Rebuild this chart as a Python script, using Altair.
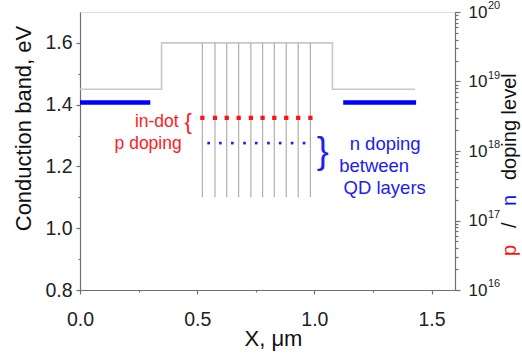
import altair as alt
import pandas as pd

FONT = "Liberation Sans"

# ---- data ----
# conduction band profile (x in um, energy in eV)
band_x = [0.0, 0.348, 0.348, 1.077, 1.077, 1.43]
band_e = [1.45, 1.45, 1.60, 1.60, 1.45, 1.45]

# QD layers (vertical lines)
qd_x = [0.522, 0.576, 0.626, 0.677, 0.729, 0.779, 0.829, 0.880, 0.931, 0.983]
qd_e_low = 1.10
qd_e_high = 1.60

# doping (cm^-3, right log axis)
contact_x_start = [0.0, 1.123]
contact_x_end = [0.30, 1.434]
contact_doping = [5e18, 5e18]

pdot_x = qd_x
pdot_doping = 3e18

ndot_x = [0.549, 0.599, 0.650, 0.702, 0.752, 0.804, 0.854, 0.905, 0.956]
ndot_doping = 1.3e18

# ticks
e_ticks = [0.8, 0.9, 1.0, 1.1, 1.2, 1.3, 1.4, 1.5, 1.6]
x_ticks = [0.0, 0.25, 0.5, 0.75, 1.0, 1.25, 1.5]
decades = [16, 17, 18, 19, 20]
doping_ticks = [m * 10.0 ** k for k in [16, 17, 18, 19] for m in range(1, 10)] + [1e20]

# annotations
red_labels = ["in-dot", "p doping"]
red_label_x = [0.421, 0.434]
red_label_e = [1.345, 1.273]
blue_labels = ["n doping", "between", "QD layers"]
blue_label_x = [1.302, 1.255, 1.300]
blue_label_e = [1.273, 1.201, 1.130]

# ---- tables ----
band_df = pd.DataFrame({"x": band_x, "e": band_e, "i": list(range(len(band_x)))})
qd_df = pd.DataFrame({"x": qd_x, "lo": [qd_e_low] * len(qd_x), "hi": [qd_e_high] * len(qd_x)})
contact_df = pd.DataFrame({"x0": contact_x_start, "x1": contact_x_end, "d": contact_doping})
pdot_df = pd.DataFrame({"x": pdot_x, "d": [pdot_doping] * len(pdot_x)})
ndot_df = pd.DataFrame({"x": ndot_x, "d": [ndot_doping] * len(ndot_x)})
exp_df = pd.DataFrame({"d": [10.0 ** k for k in decades], "t": [str(k) for k in decades]})
red_df = pd.DataFrame({"x": red_label_x, "e": red_label_e, "t": red_labels})
blue_df = pd.DataFrame({"x": blue_label_x, "e": blue_label_e, "t": blue_labels})

xs = alt.Scale(domain=[0, 1.6], nice=False, zero=False)
es = alt.Scale(domain=[0.8, 1.7], nice=False, zero=False)
ds = alt.Scale(type="log", domain=[1e16, 1e20], nice=False)

AX = dict(labelFont=FONT, titleFont=FONT, labelColor="#222222", titleColor="#111111",
          domainColor="#707070", tickColor="#707070", domainWidth=1.2, tickWidth=1.2,
          grid=False, titleFontWeight="normal", labelFontWeight="normal")

x_axis = alt.Axis(
    values=x_ticks, title="X, \u03bcm", labelFontSize=19.5, titleFontSize=22,
    labelExpr="abs(datum.value*2-round(datum.value*2))<1e-6 ? format(datum.value,'.1f') : ''",
    tickSize={"condition": {"test": "abs(datum.value*2-round(datum.value*2))<1e-6", "value": 4}, "value": 2},
    labelPadding=16, titleX=193, titleY=55, titleBaseline="alphabetic", titleAlign="center",
    labelFlush=False, **AX)

e_axis = alt.Axis(
    values=e_ticks, title="Conduction band, eV", labelFontSize=19.5, titleFontSize=22,
    labelExpr="abs(datum.value*5-round(datum.value*5))<1e-6 ? format(datum.value,'.1f') : ''",
    tickSize={"condition": {"test": "abs(datum.value*5-round(datum.value*5))<1e-6", "value": 4}, "value": 2},
    labelPadding=4, titleAngle=270, titleX=-50, titleY=116, titleBaseline="alphabetic",
    titleAlign="center", labelFlush=False, **AX)

DEC = "abs(log(datum.value)/LN10 - round(log(datum.value)/LN10)) < 1e-6"
d_axis = alt.Axis(
    orient="right", values=doping_ticks, title=None, labelFontSize=17,
    labelExpr=DEC + " ? '10' : ''",
    tickSize={"condition": {"test": DEC, "value": 5}, "value": 3},
    labelPadding=8, labelFlush=False, labelBaseline="middle", **AX)

X = alt.X("x:Q", scale=xs, axis=x_axis)
E = alt.Y("e:Q", scale=es, axis=e_axis)
D = alt.Y("d:Q", scale=ds, axis=d_axis)

band = alt.Chart(band_df).mark_line(color="#c8c8c8", strokeWidth=1.6).encode(
    x=X, y=E, order="i:Q")
qd = alt.Chart(qd_df).mark_rule(color="#b0b0b0", strokeWidth=1.2).encode(
    x=X, y=alt.Y("lo:Q", scale=es, axis=e_axis), y2="hi:Q")

red_txt = alt.Chart(red_df).mark_text(
    font=FONT, fontSize=17.5, color="#ff2020", align="right", baseline="middle").encode(
    x=X, y=E, text="t:N")
red_brace = alt.Chart(pd.DataFrame({"x": [0.461], "e": [1.343], "t": ["{"]})).mark_text(
    font=FONT, fontSize=22, color="#ff2020", align="center", baseline="middle").encode(
    x=X, y=E, text="t:N")
blue_txt = alt.Chart(blue_df).mark_text(
    font=FONT, fontSize=18.5, color="#2020ee", align="center", baseline="middle").encode(
    x=X, y=E, text="t:N")
blue_brace = alt.Chart(pd.DataFrame({"x": [1.036], "e": [1.248], "t": ["}"]})).mark_text(
    font=FONT, fontSize=36, color="#2020ee", align="center", baseline="middle").encode(
    x=X, y=E, text="t:N")

left = alt.layer(band, qd, red_txt, red_brace, blue_txt, blue_brace)

contacts = alt.Chart(contact_df).mark_rule(color="#0000ff", strokeWidth=4.5).encode(
    x=alt.X("x0:Q", scale=xs, axis=x_axis), x2="x1:Q", y=D)
pdots = alt.Chart(pdot_df).mark_square(color="#ff1010", size=18, opacity=1).encode(x=X, y=D)
ndots = alt.Chart(ndot_df).mark_square(color="#1a1aff", size=7, opacity=1).encode(x=X, y=D)
exps = alt.Chart(exp_df).mark_text(
    font=FONT, fontSize=11, color="#222222", align="left", baseline="middle", dy=-6).encode(
    x=alt.value(408), y=D, text="t:N")

one = alt.Data(values=[{"a": 1}])


def title_piece(txt, col, ypix):
    return alt.Chart(one).mark_text(
        text=txt, font=FONT, fontSize=20, color=col, angle=270, align="left",
        baseline="alphabetic").encode(x=alt.value(436), y=alt.value(ypix))


rt = [title_piece("p", "#ff1010", 244), title_piece("/", "#111111", 216),
      title_piece("n", "#1010ee", 194), title_piece("doping level", "#111111", 168)]

right = alt.layer(contacts, pdots, ndots, exps, *rt)

chart = alt.layer(left, right).resolve_scale(y="independent").properties(
    width=375, height=278,
    autosize=alt.AutoSizeParams(type="none"),
    padding={"left": 80, "top": 12, "right": 67, "bottom": 64},
).configure_view(stroke=None).configure(background="white")

chart.save("out.html", embed_options={"renderer": "svg", "actions": False})
